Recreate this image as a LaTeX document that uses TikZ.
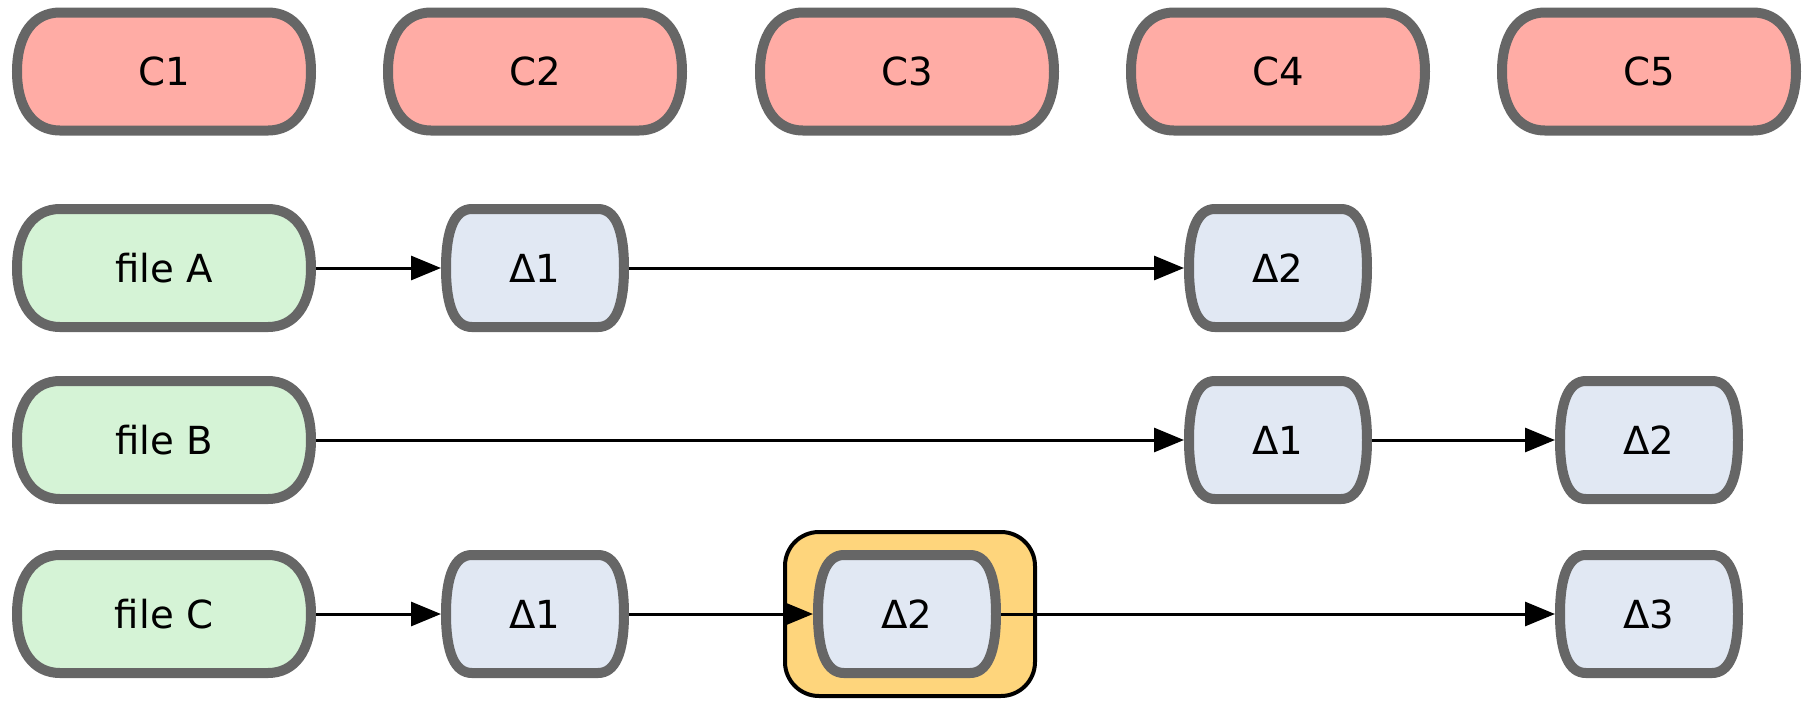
\documentclass[tikz,border=0pt]{standalone}
\usepackage{fontspec}
\setmainfont{DejaVu Sans}
\usetikzlibrary{arrows.meta}
\usetikzlibrary{backgrounds}
\usetikzlibrary{calc}
\definecolor{rimgray}{HTML}{666666}
\definecolor{commitred}{HTML}{FFACA5}
\definecolor{filegreen}{HTML}{D5F3D6}
\definecolor{deltablue}{HTML}{E1E8F3}
\definecolor{markorange}{HTML}{FED57C}
\tikzset{box/.style = {inner sep = 0, outer sep = 0, minimum height = 12.8mm,
                       font = \fontsize{11}{13}\selectfont}}
\tikzset{wide/.style = {box, minimum width = 30.4mm}}
\tikzset{narrow/.style = {box, minimum width = 18.8mm}}
\tikzset{rim/.style = {draw = rimgray, line width = 1mm}}
\tikzset{flow/.style = {-{Triangle[length = 3mm, width = 2.4mm]}, line width = 0.3mm}}
\tikzset{marker/.style = {draw, fill = markorange, line width = 0.4mm, rounded corners = 3.4mm,
                          minimum width = 25mm, minimum height = 16.4mm}}
% outline of a node with bulging ends: #1 node, #2 fill, #3 end width (mm), #4 fullness
\newcommand{\pill}[4]{%
  \path[rim, fill = #2]
    ($(#1.north west) + (#3mm, -0.5mm)$) -- ($(#1.north east) + (-#3mm, -0.5mm)$)
    .. controls ($(#1.north east) + ({(#3mm - 0.5mm)*#4 - #3mm}, -0.5mm)$)
            and ($(#1.east) + (-0.5mm, 5.9mm*#4)$) .. ($(#1.east) + (-0.5mm, 0mm)$)
    .. controls ($(#1.east) + (-0.5mm, -5.9mm*#4)$)
            and ($(#1.south east) + ({(#3mm - 0.5mm)*#4 - #3mm}, 0.5mm)$)
            .. ($(#1.south east) + (-#3mm, 0.5mm)$)
    -- ($(#1.south west) + (#3mm, 0.5mm)$)
    .. controls ($(#1.south west) + ({#3mm - (#3mm - 0.5mm)*#4}, 0.5mm)$)
            and ($(#1.west) + (0.5mm, -5.9mm*#4)$) .. ($(#1.west) + (0.5mm, 0mm)$)
    .. controls ($(#1.west) + (0.5mm, 5.9mm*#4)$)
            and ($(#1.north west) + ({#3mm - (#3mm - 0.5mm)*#4}, -0.5mm)$)
            .. ($(#1.north west) + (#3mm, -0.5mm)$)
    -- cycle;}

\begin{document}
\begin{tikzpicture}[x = 1mm, y = 1mm]
  \useasboundingbox (0, 0) rectangle (181.2, -70.1);

  \foreach \i/\x in {1/16.4, 2/53.5, 3/90.7, 4/127.8, 5/164.9}
    \node [wide] (c\i) at (\x, -7.15) {C\i};

  \node [wide] (fa) at (16.4, -26.8) {file A};
  \node [wide] (fb) at (16.4, -44.0) {file B};
  \node [wide] (fc) at (16.4, -61.4) {file C};

  \node [narrow] (da1) at (53.5, -26.8) {Δ1};
  \node [narrow] (da2) at (127.8, -26.8) {Δ2};
  \node [narrow] (db1) at (127.8, -44.0) {Δ1};
  \node [narrow] (db2) at (164.9, -44.0) {Δ2};
  \node [narrow] (dc1) at (53.5, -61.4) {Δ1};
  \node [narrow] (dc2) at (90.7, -61.4) {Δ2};
  \node [narrow] (dc3) at (164.9, -61.4) {Δ3};

  \begin{scope}[on background layer]
    \node [marker] (hl) at (91.0, -61.4) {};
    \foreach \n/\col in {c1/commitred, c2/commitred, c3/commitred, c4/commitred, c5/commitred,
                         fa/filegreen, fb/filegreen, fc/filegreen}
      \pill{\n}{\col}{4.8}{0.62};
    \foreach \n in {da1, da2, db1, db2, dc1, dc2, dc3}
      \pill{\n}{deltablue}{3.1}{0.66};
  \end{scope}

  \draw [flow] (fa) -- (da1);
  \draw [flow] (da1) -- (da2);
  \draw [flow] (fb) -- (db1);
  \draw [flow] (db1) -- (db2);
  \draw [flow] (fc) -- (dc1);
  \draw [flow] (dc1) -- (dc2);
  \draw [flow] (dc2) -- (dc3);

\end{tikzpicture}
\end{document}
